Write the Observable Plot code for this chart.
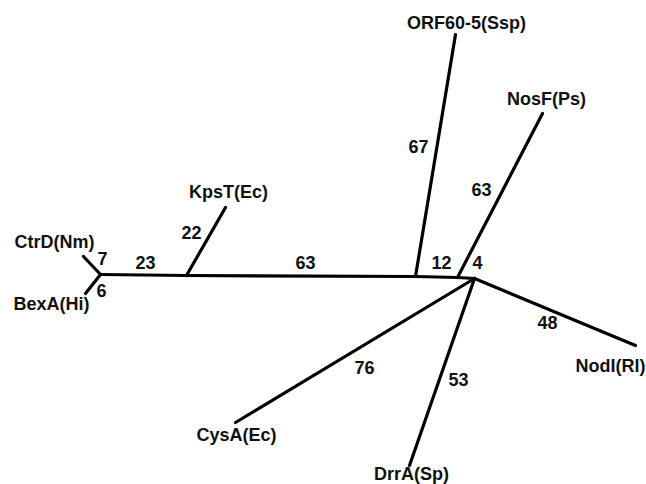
<!DOCTYPE html>
<html>
<head>
<meta charset="utf-8">
<script src="https://cdn.jsdelivr.net/npm/d3@7"></script>
<script src="https://cdn.jsdelivr.net/npm/@observablehq/plot@0.6"></script>
<style>
  html, body { margin: 0; padding: 0; background: #fff; }
  #chart svg { display: block; }
</style>
</head>
<body>
<div id="chart"></div>
<script>
// Tree nodes (layout coordinates of the drawn unrooted tree)
const nodeNames = ["CtrD", "BexA", "J1", "J2", "KpsT", "J3", "ORF", "J4", "NosF", "J5", "NodI", "CysA", "DrrA"];
const nodeX = [83, 85, 100, 186, 225, 415, 455, 457, 542, 474, 635, 235, 409];
const nodeY = [256, 293, 274, 275, 207, 276, 34, 277, 113, 278, 345, 422, 465];

// Branches and their lengths
const edgeFrom   = ["CtrD", "BexA", "J1", "J2", "J2", "J3", "J3", "J4", "J4", "J5", "J5", "J5"];
const edgeTo     = ["J1",   "J1",   "J2", "KpsT", "J3", "ORF", "J4", "NosF", "J5", "NodI", "CysA", "DrrA"];
const edgeLength = [7, 6, 23, 22, 63, 67, 12, 63, 4, 48, 76, 53];
const edgeLabelX = [102, 101, 145, 191, 305, 418, 441, 481, 477, 547, 364, 458];
const edgeLabelY = [259, 291, 263, 233, 263, 147, 263, 190, 263, 323, 368, 380];

// Leaf labels
const leafText = ["CtrD(Nm)", "BexA(Hi)", "KpsT(Ec)", "ORF60-5(Ssp)", "NosF(Ps)", "NodI(Rl)", "CysA(Ec)", "DrrA(Sp)"];
const leafX    = [54, 51, 228, 466, 546, 610, 236, 411];
const leafY    = [247, 309, 197, 28, 104, 371, 440, 479];

const pos = new Map(nodeNames.map((n, i) => [n, [nodeX[i], nodeY[i]]]));
const edges = edgeFrom.map((f, i) => ({
  x1: pos.get(f)[0], y1: pos.get(f)[1],
  x2: pos.get(edgeTo[i])[0], y2: pos.get(edgeTo[i])[1],
  len: edgeLength[i], lx: edgeLabelX[i], ly: edgeLabelY[i]
}));
const leaves = leafText.map((t, i) => ({t, x: leafX[i], y: leafY[i]}));

const chart = Plot.plot({
  width: 646,
  height: 484,
  margin: 0,
  x: {domain: [0, 646], range: [0, 646], axis: null},
  y: {domain: [0, 484], range: [0, 484], axis: null},
  style: {background: "#fff"},
  marks: [
    Plot.link(edges, {x1: "x1", y1: "y1", x2: "x2", y2: "y2", stroke: "#000", strokeWidth: 3.2, strokeLinecap: "round"}),
    Plot.text(edges, {x: "lx", y: "ly", text: d => String(d.len), fill: "#111",
      fontFamily: "Liberation Sans, Arial, sans-serif", fontWeight: "bold", fontSize: 18,
      textAnchor: "middle", lineAnchor: "middle", letterSpacing: "0.5px"}),
    Plot.text(leaves, {x: "x", y: "y", text: "t", fill: "#111",
      fontFamily: "Liberation Sans, Arial, sans-serif", fontWeight: "bold", fontSize: 18,
      textAnchor: "middle", lineAnchor: "bottom", letterSpacing: "0.3px"})
  ]
});
document.getElementById("chart").appendChild(chart);
</script>
</body>
</html>
